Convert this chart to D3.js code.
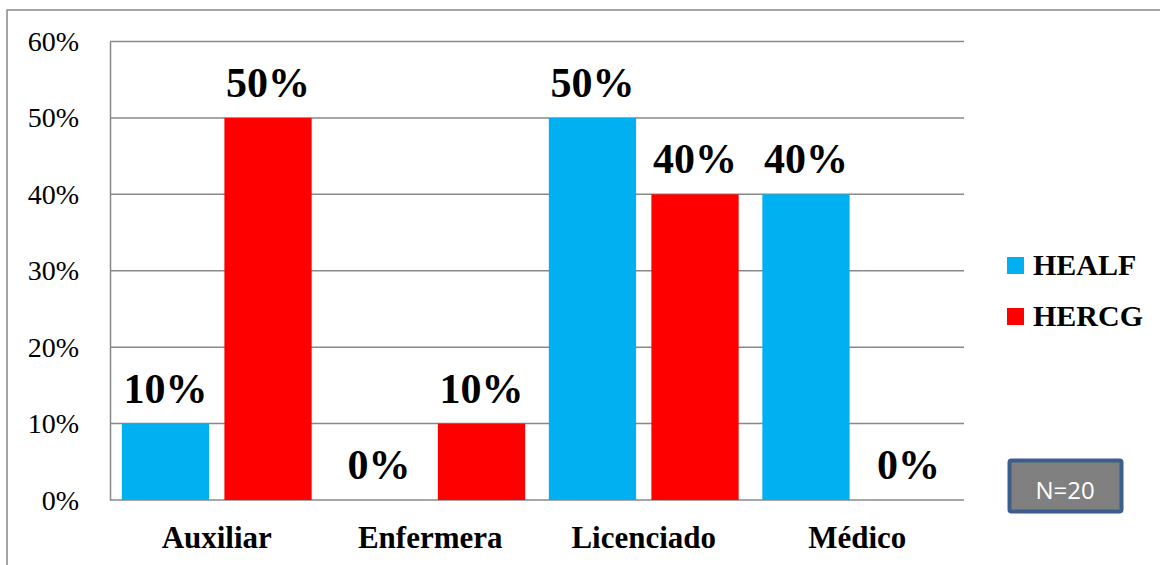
<!DOCTYPE html>
<html>
<head>
<meta charset="utf-8">
<script src="https://cdn.jsdelivr.net/npm/d3@7"></script>
<style>
  html, body { margin: 0; padding: 0; background: #fff; }
  svg { display: block; }
</style>
</head>
<body>
<script>
const categories = ["Auxiliar", "Enfermera", "Licenciado", "Médico"];
const seriesNames = ["HEALF", "HERCG"];
const healf = [0.10, 0.00, 0.50, 0.40];
const hercg = [0.50, 0.10, 0.40, 0.00];
const yTicks = [0, 0.1, 0.2, 0.3, 0.4, 0.5, 0.6];
const colors = ["#00B0F0", "#FF0000"];
const note = "N=20";

const W = 1160, H = 565;
const SERIF = "'Liberation Serif', 'Times New Roman', serif";
const svg = d3.select("body").append("svg").attr("width", W).attr("height", H);

// outer frame
svg.append("rect").attr("x", 7).attr("y", 10).attr("width", 1170).attr("height", 600)
  .attr("fill", "none").attr("stroke", "#888").attr("stroke-width", 1.5);

const plot = { left: 110, right: 964, top: 41.5, bottom: 500 };

const x0 = d3.scaleBand().domain(categories).range([plot.left, plot.right]).padding(0);
const x1 = d3.scaleBand().domain(seriesNames).range([0, x0.bandwidth()])
  .paddingInner(0.149).paddingOuter(0.1155);
const y = d3.scaleLinear().domain([0, 0.6]).range([plot.bottom, plot.top]);

// gridlines
svg.append("g").selectAll("line").data(yTicks).join("line")
  .attr("x1", plot.left).attr("x2", plot.right)
  .attr("y1", d => y(d)).attr("y2", d => y(d))
  .attr("stroke", "#888").attr("stroke-width", 1.5);

// y axis line
const yAxis = svg.append("g").attr("transform", `translate(${plot.left},0)`)
  .call(d3.axisLeft(y).tickValues(yTicks).tickFormat("").tickSize(0));
yAxis.select(".domain").attr("stroke", "#888").attr("stroke-width", 1.5);

// y tick labels
svg.append("g").selectAll("text").data(yTicks).join("text")
  .attr("x", plot.left - 31).attr("y", d => y(d) + 9.5)
  .attr("text-anchor", "end")
  .attr("font-family", SERIF).attr("font-size", 28).attr("fill", "#000")
  .text(d => d3.format(".0%")(d));

// bars
const data = categories.map((c, i) => ({ cat: c, vals: [healf[i], hercg[i]] }));
const groups = svg.append("g").selectAll("g").data(data).join("g")
  .attr("transform", d => `translate(${x0(d.cat)},0)`);
groups.selectAll("rect").data(d => d.vals.map((v, j) => ({ s: seriesNames[j], v, j })))
  .join("rect")
  .attr("x", d => x1(d.s)).attr("width", x1.bandwidth())
  .attr("y", d => y(d.v)).attr("height", d => plot.bottom - y(d.v))
  .attr("fill", d => colors[d.j]);
groups.selectAll("text").data(d => d.vals.map((v, j) => ({ s: seriesNames[j], v, j })))
  .join("text")
  .attr("x", d => x1(d.s) + x1.bandwidth() / 2)
  .attr("y", d => y(d.v) - 21)
  .attr("text-anchor", "middle")
  .attr("font-family", SERIF)
  .attr("font-weight", "bold").attr("font-size", 42).attr("fill", "#000")
  .text(d => d3.format(".0%")(d.v));

// x category labels
svg.append("g").selectAll("text").data(categories).join("text")
  .attr("x", d => x0(d) + x0.bandwidth() / 2).attr("y", plot.bottom + 48)
  .attr("text-anchor", "middle")
  .attr("font-family", SERIF).attr("font-weight", "bold").attr("font-size", 31).attr("fill", "#000")
  .text(d => d);

// legend
const legend = svg.append("g").selectAll("g").data(seriesNames).join("g")
  .attr("transform", (d, i) => `translate(1007,${257 + i * 51})`);
legend.append("rect").attr("width", 17).attr("height", 17).attr("fill", (d, i) => colors[i]);
legend.append("text").attr("x", 26).attr("y", 18)
  .attr("font-family", SERIF)
  .attr("font-weight", "bold").attr("font-size", 30).attr("fill", "#000")
  .text(d => d);

// N box
const nb = svg.append("g").attr("transform", "translate(1008,459)");
nb.append("rect").attr("x", 1.5).attr("y", 1.5).attr("width", 112).attr("height", 51)
  .attr("rx", 2).attr("fill", "#808080").attr("stroke", "#3B5E8C").attr("stroke-width", 4);
nb.append("text").attr("x", 57).attr("y", 40).attr("text-anchor", "middle")
  .attr("font-family", "'Open Sans', sans-serif").attr("font-size", 24).attr("fill", "#fff")
  .text(note);
</script>
</body>
</html>
